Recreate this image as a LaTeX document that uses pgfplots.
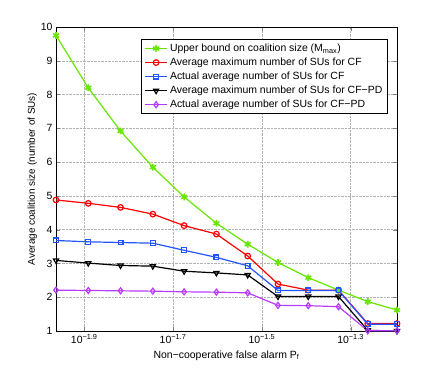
\documentclass[border=0pt]{standalone}
\usepackage{fontspec}
\setmainfont{Liberation Sans}
\usepackage{pgfplots}
\pgfplotsset{compat=1.18}
\definecolor{ubgreen}{HTML}{66E600}
\definecolor{cfblue}{HTML}{2255FF}
\definecolor{pdviolet}{HTML}{B83CFF}

\begin{document}
\begin{tikzpicture}[x=1bp,y=1bp]
\useasboundingbox (-56,-41) rectangle (380,331);
\begin{axis}[at={(0,0)},anchor=south west,
  width=341bp,height=304bp,scale only axis,
  font=\fontsize{10.5}{12}\selectfont,
  /pgf/number format/assume math mode=true,
  xmin=-1.9636,xmax=-1.1955,ymin=1,ymax=10,
  xtick={-1.9,-1.7,-1.5,-1.3},
  xticklabels={10\textsuperscript{\textminus1.9},10\textsuperscript{\textminus1.7},10\textsuperscript{\textminus1.5},10\textsuperscript{\textminus1.3}},
  ytick={1,...,10},
  tick align=inside,major tick length=4bp,
  grid=major,grid style={gray!60,densely dotted,line width=0.5pt},
  axis line style={line width=0.7pt},
  xlabel={Non{\textminus}cooperative false alarm P$_\mathrm{f}$},
  ylabel={Average coalition size (number of SUs)},
  xlabel style={yshift=0bp},
  ylabel style={font=\fontsize{10}{12}\selectfont,yshift=-3bp},
  every axis plot/.append style={line width=1.2pt},
  legend image code/.code={%
    \draw[mark repeat=2,mark phase=2] plot coordinates {(0cm,0cm)(0.4cm,0cm)(0.8cm,0cm)};},
  legend style={at={(0.971,0.96)},anchor=north east,
    font=\fontsize{10.5}{12}\selectfont,draw=black,line width=0.6pt,
    row sep=1pt,inner sep=2.5pt},
  legend cell align=left]
\addplot[ubgreen,mark=asterisk,mark size=3.4pt,mark options={line width=1.6pt}] coordinates {
  (-1.9636,9.75)(-1.8909,8.20)(-1.8182,6.92)(-1.7455,5.85)(-1.6750,4.97)
  (-1.6023,4.19)(-1.5318,3.57)(-1.4636,3.03)(-1.3955,2.58)(-1.3273,2.21)
  (-1.2614,1.87)(-1.1955,1.62)};
\addlegendentry{Upper bound on coalition size (M$_\mathrm{max}$)}
\addplot[red,mark=o,mark size=2.8pt] coordinates {
  (-1.9636,4.88)(-1.8909,4.78)(-1.8182,4.66)(-1.7455,4.46)(-1.6750,4.12)
  (-1.6023,3.87)(-1.5318,3.22)(-1.4636,2.39)(-1.3955,2.21)(-1.3273,2.21)
  (-1.2614,1.22)(-1.1955,1.22)};
\addlegendentry{Average maximum number of SUs for CF}
\addplot[cfblue,mark=square,mark size=2.4pt] coordinates {
  (-1.9636,3.68)(-1.8909,3.64)(-1.8182,3.62)(-1.7455,3.60)(-1.6750,3.39)
  (-1.6023,3.18)(-1.5318,2.93)(-1.4636,2.20)(-1.3955,2.20)(-1.3273,2.20)
  (-1.2614,1.20)(-1.1955,1.20)};
\addlegendentry{Actual average number of SUs for CF}
\addplot[black,mark=triangle,mark size=3pt,mark options={rotate=180}] coordinates {
  (-1.9636,3.09)(-1.8909,3.01)(-1.8182,2.94)(-1.7455,2.92)(-1.6750,2.77)
  (-1.6023,2.72)(-1.5318,2.66)(-1.4636,2.02)(-1.3955,2.02)(-1.3273,2.02)
  (-1.2614,1.02)(-1.1955,1.00)};
\addlegendentry{Average maximum number of SUs for CF{\textminus}PD}
\addplot[pdviolet,mark=diamond,mark size=3pt] coordinates {
  (-1.9636,2.21)(-1.8909,2.20)(-1.8182,2.19)(-1.7455,2.18)(-1.6750,2.16)
  (-1.6023,2.15)(-1.5318,2.13)(-1.4636,1.76)(-1.3955,1.75)(-1.3273,1.72)
  (-1.2614,1.01)(-1.1955,1.01)};
\addlegendentry{Actual average number of SUs for CF{\textminus}PD}
\end{axis}
\end{tikzpicture}
\end{document}
